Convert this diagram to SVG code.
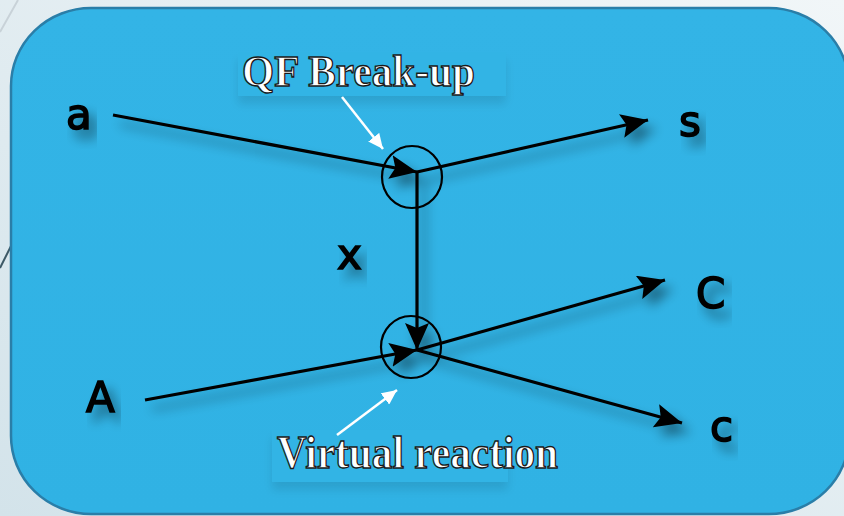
<svg xmlns="http://www.w3.org/2000/svg" width="844" height="516" viewBox="0 0 844 516">
<defs>
<linearGradient id="bg" x1="1" y1="0" x2="0" y2="1">
<stop offset="0" stop-color="#f1f6f8"/>
<stop offset="1" stop-color="#d3e3ea"/>
</linearGradient>
<linearGradient id="box" x1="0" y1="0" x2="0" y2="1">
<stop offset="0" stop-color="#33b4e6"/>
<stop offset="1" stop-color="#30b2e4"/>
</linearGradient>
<filter id="sh" x="-20%" y="-20%" width="140%" height="140%">
<feGaussianBlur in="SourceAlpha" stdDeviation="6"/>
<feOffset dx="7" dy="9" result="b"/>
<feComponentTransfer><feFuncA type="linear" slope="0.45"/></feComponentTransfer>
<feMerge><feMergeNode/><feMergeNode in="SourceGraphic"/></feMerge>
</filter>
<filter id="lsh" x="-10%" y="-50%" width="120%" height="250%">
<feGaussianBlur in="SourceAlpha" stdDeviation="5"/>
<feOffset dx="0" dy="8"/>
<feComponentTransfer><feFuncA type="linear" slope="0.1"/></feComponentTransfer>
<feMerge><feMergeNode/><feMergeNode in="SourceGraphic"/></feMerge>
</filter>
<marker id="ah" markerUnits="userSpaceOnUse" markerWidth="28" markerHeight="24" refX="27" refY="12" orient="auto" viewBox="0 0 28 24">
<path d="M0,0 L27,12 L0,24 L5,12 Z" fill="#000"/>
</marker>
<marker id="wh" markerUnits="userSpaceOnUse" markerWidth="16" markerHeight="14" refX="15" refY="7" orient="auto" viewBox="0 0 16 14">
<path d="M0,0 L15,7 L0,14 Z" fill="#fff"/>
</marker>
</defs>
<style>
.hand{font-family:"DejaVu Sans",sans-serif;font-size:42px;fill:#000;stroke:#000;stroke-width:1.6}
.lbl{font-family:"Liberation Serif","Times New Roman",serif;font-weight:bold;fill:#fff;stroke:#1a1a1a;stroke-width:1.4}
.ln{stroke:#000;stroke-width:3.2;fill:none;marker-end:url(#ah)}
.wl{stroke:#fff;stroke-width:2.5;fill:none;marker-end:url(#wh)}
.ring{fill:none;stroke:#000;stroke-width:2.2}
</style>
<rect width="844" height="516" fill="url(#bg)"/>
<line x1="18" y1="0" x2="0" y2="32" stroke="#c8d2d8" stroke-width="2"/>
<line x1="12" y1="244" x2="0" y2="268" stroke="#3d5966" stroke-width="2"/>
<rect x="11" y="8" width="838" height="506" rx="80" ry="78" fill="url(#box)" stroke="#2a7ea8" stroke-width="2.5"/>
<g id="label-boxes" filter="url(#lsh)">
<rect x="238" y="52" width="268" height="44" fill="#33b4e5"/>
<rect x="272" y="430" width="236" height="52" fill="#33b4e5"/>
</g>
<g id="connectors" filter="url(#sh)">
<line class="ln" x1="113" y1="115" x2="417" y2="172"/>
<line class="ln" x1="417" y1="172" x2="648" y2="120"/>
<line class="ln" x1="417" y1="172" x2="417" y2="350"/>
<line class="ln" x1="145" y1="400" x2="417" y2="350"/>
<line class="ln" x1="417" y1="350" x2="665" y2="280"/>
<line class="ln" x1="417" y1="350" x2="682" y2="423"/>
</g>
<g id="vertex-top"><ellipse class="ring" cx="412" cy="177" rx="30" ry="31"/></g>
<g id="vertex-bottom"><ellipse class="ring" cx="411" cy="347" rx="30" ry="31"/></g>
<g id="node-a" filter="url(#sh)"><text class="hand" x="66" y="129">a</text></g>
<g id="node-s" filter="url(#sh)"><text class="hand" x="679" y="136">s</text></g>
<g id="node-x" filter="url(#sh)"><text class="hand" x="337" y="269">x</text></g>
<g id="node-C" filter="url(#sh)"><text class="hand" x="696" y="308">C</text></g>
<g id="node-A" filter="url(#sh)"><text class="hand" x="86" y="412">A</text></g>
<g id="node-c" filter="url(#sh)"><text class="hand" x="710" y="441">c</text></g>
<g id="label-qf">
<text class="lbl" x="242" y="86" font-size="44" textLength="233" lengthAdjust="spacingAndGlyphs">QF Break-up</text>
<line class="wl" x1="342" y1="97" x2="383" y2="149"/>
</g>
<g id="label-virtual">
<text class="lbl" x="277" y="468" font-size="46" textLength="281" lengthAdjust="spacingAndGlyphs">Virtual reaction</text>
<line class="wl" x1="337" y1="435" x2="397" y2="390"/>
</g>
</svg>
